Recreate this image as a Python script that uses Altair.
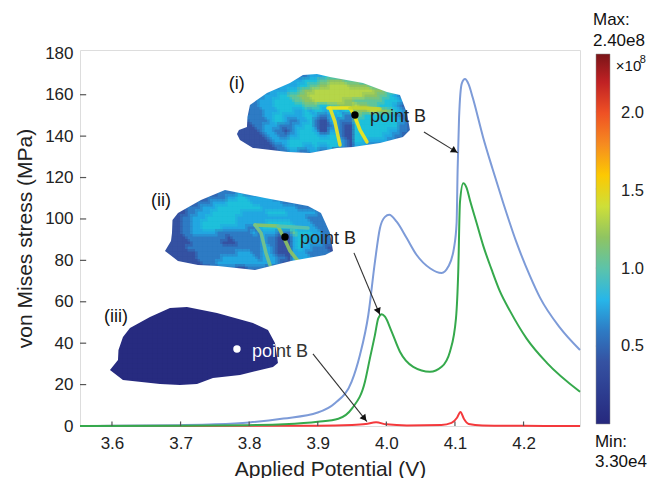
import math
import altair as alt
import pandas as pd

alt.data_transformers.disable_max_rows()

FONT = "Liberation Sans"
X_DOMAIN = [3.5534, 4.2823]
Y_DOMAIN = [0, 181.6]
PX_PER_V = 686.0
PX_PER_MPA = 2.07

blue_v = [3.5534,3.6,3.7,3.75,3.8,3.85,3.9,3.925,3.9494,3.9615,3.9737,3.9834,3.9907,3.998,4.0042,4.015,4.0296,4.0442,4.0636,4.0806,4.0903,4.0985,4.1024,4.1039,4.106,4.11,4.1146,4.12,4.126,4.141,4.155,4.1704,4.19,4.2093,4.224,4.253,4.2823]
blue_s = [0,0.1,0.4,0.8,1.7,3.6,6.5,11,21.4,34.3,53.6,79.4,95.6,101,102,98.7,90.8,82.6,76.2,73.9,77,85.8,98,123.7,149,165.5,167.6,165,158.5,139.5,124,107.7,88.4,72.5,62,47.5,36.7]
green_v = [3.5534,3.7,3.8,3.85,3.9,3.93,3.95,3.9688,3.9761,3.9834,3.9882,3.9932,3.998,4.0077,4.0198,4.0392,4.0636,4.0806,4.0927,4.1015,4.1048,4.1073,4.1121,4.117,4.1219,4.1316,4.1413,4.1535,4.1656,4.1802,4.2045,4.234,4.2823]
green_s = [0,0.1,0.4,0.8,2,3.5,8.5,21.4,32.8,44,52,54,52.8,45.6,35.9,28.6,26.2,28.6,35.9,52,74.5,108,117.2,115,109,98,87,75.5,65,55.6,42.2,30.5,16.5]
red_v = [3.5534,3.9,3.95,3.97,3.985,4.0,4.03,4.08,4.095,4.103,4.108,4.113,4.12,4.14,4.2,4.2823]
red_s = [0,0.1,0.5,1,1.8,0.8,0.3,0.5,1.5,4,6.8,3.5,1,0.3,0.1,0]

x_ticks = [3.6,3.7,3.8,3.9,4.0,4.1,4.2]
y_ticks = list(range(0,181,20))
y_minor_ticks = list(range(20,161,20))

stress_levels = {"0":0.03,"1":0.4,"2":0.6,"3":0.75,"4":0.87,"5":1.05,"6":1.2,"7":1.33,"8":1.5,"9":1.75}
cbar_domain = [0,0.5,0.82,1.0,1.2,1.5,1.8,2.1,2.38]
cbar_range = ["#26287d","#3a5dab","#2bbcec","#5cc3aa","#8fc462","#f7e814","#f68b20","#e8282a","#7a1518"]
cbar_labels = [0.5,1.0,1.5,2.0]

field_i = [
"11111111111222333444333322222221111",
"22222222233334445566655544433322111",
"22222222333344556677776666554443211",
"22222233334456677777777777766554321",
"22222333445566777777777776665543211",
"22223334444556677777766555555444321",
"11223334444445554455666766554443211",
"11222333444334344344344666776654321",
"12222334433334432233422654444443221",
"11222234432233421133222544444444321",
"11122333222334421123211444444444221",
"11112332212344431133211444444433221",
"11111233223344443344211444444332211",
"11111123334444444444321443333322111",
"11111112234443343344321333222211111",
"11111111223322332231111121111111111",
"11111111112112211221111111111111111",
]
field_ii = [
"11111111112222322222211111111111111",
"11111111222233443333322221111111111",
"11111122233344444333333222221111111",
"11112223334444444443333333222211111",
"11112233344444433333444433333322111",
"11122333444444333333333333332222211",
"11122334444444333333444443333222111",
"11122334444333332234444444333322211",
"11122333332222222323332225444332211",
"11112222222212222223221113443332211",
"11111222222111222223221113443332211",
"11112222222222222223321113433222111",
"11111122222222333223321113332222211",
"11111122222333333323332213333222111",
"11111112223333333333332113332221111",
"11111111122222112222111112111111111",
"11111111111111111111111111111111111",
]
field_iii = ["0"*35]*17

top_i = [(0,62),(2,58),(10,55),(10.5,45),(13,33),(30,21),(53,11),(66,3),(80,2),(93,5),(126,11),(150,20),(163,23),(170,41),(173,58)]
bot_i = [(0,62),(3,68),(16,76),(51,80),(73,81),(100,76),(116,75),(143,71),(166,65),(173,58)]
top_ii = [(0,62),(6,52),(7,44),(7.5,31),(13,24),(36,11),(60,1),(100,9),(143,17),(156,24),(165,44),(168,62)]
bot_ii = [(0,62),(13,72),(33,76),(53,77),(90,81),(126,72),(160,66),(168,62)]
top_iii = [(0,64),(8,54),(8.5,44),(13,31),(20,22),(40,11),(60,2),(77,1),(107,7),(143,17),(158,24),(165,37),(168,57)]
bot_iii = [(0,64),(13,74),(50,78),(70,79),(87,78),(103,72),(130,69),(163,61),(168,57)]

ridges_i = [
    ([(91,36),(113,36),(118,45),(123,58),(130,70)], "#f7e814"),
    ([(113,36),(128,36),(143,37)], "#c4d52e"),
    ([(93,36),(98,50),(103,73)], "#f2e41c"),
]
ridges_ii = [
    ([(90,36),(113,37),(120,51),(125,62),(133,72)], "#8fc462"),
    ([(113,37),(128,38),(143,39)], "#5cc3aa"),
    ([(90,36),(96,44),(101,64),(105,76)], "#78c487"),
]

insets = [
    ("i", 3.7822, 171.01, field_i, top_i, bot_i, ridges_i),
    ("ii", 3.6773, 114.5, field_ii, top_ii, bot_ii, ridges_ii),
    ("iii", 3.5971, 57.97, field_iii, top_iii, bot_iii, []),
]

dots_v = [3.9542,3.8522,3.7822]
dots_s = [150.2,91.3,37.2]
dots_c = ["#000000","#000000","#ffffff"]

arrows = [
    (4.0548,142.0,4.1044,131.9),
    (3.9528,83.6,3.9907,53.6),
    (3.893,34.8,3.9717,2.1),
]

two_tone = alt.LinearGradient(gradient="linear", x1=0, x2=1, y1=0, y2=0, stops=[
    alt.GradientStop(color="#ffffff", offset=0), alt.GradientStop(color="#ffffff", offset=0.41),
    alt.GradientStop(color="#333333", offset=0.41), alt.GradientStop(color="#333333", offset=1)])

texts = [
    ("(i)",3.782,165.2,"center",18,"#111111"),
    ("(ii)",3.6714,108.7,"center",18,"#111111"),
    ("(iii)",3.606,52.7,"center",18,"#111111"),
    ("point B",3.976,149.3,"left",18,"#222222"),
    ("point B",3.874,90.3,"left",18,"#222222"),
    ("point B",3.804,35.7,"left",18,two_tone),
    ("Max:",4.3012,196.1,"left",17,"#111111"),
    ("2.40e8",4.3012,186,"left",17,"#111111"),
    ("\u00d710",4.3345,173.9,"left",15,"#111111"),
    ("8",4.3695,176.8,"left",11,"#111111"),
    ("Min:",4.3041,-7.7,"left",17,"#111111"),
    ("3.30e4",4.3041,-17.4,"left",17,"#111111"),
]

x_scale = alt.Scale(domain=X_DOMAIN, nice=False, zero=False)
y_scale = alt.Scale(domain=Y_DOMAIN, nice=False, zero=False)
X = alt.X("x:Q", scale=x_scale, axis=alt.Axis(values=x_ticks, ticks=False, domain=False, grid=False,
        format=".1f", labelFont=FONT, labelFontSize=17, labelColor="#222222", labelPadding=9,
        title="Applied Potential (V)", titleFont=FONT, titleFontSize=21, titleFontWeight="normal",
        titleColor="#222222", titlePadding=7))
Y = alt.Y("y:Q", scale=y_scale, axis=alt.Axis(values=y_ticks, ticks=False, domain=False, grid=False,
        labelFont=FONT, labelFontSize=17, labelColor="#222222", labelPadding=7,
        title="von Mises stress (MPa)", titleFont=FONT, titleFontSize=21, titleFontWeight="normal",
        titleColor="#222222", titlePadding=9))

color_scale = alt.Scale(domain=cbar_domain, range=cbar_range, clamp=True)

cells, cells2, masks, ridge_layers = [], [], [], []
for name, v0, m0, field, top, bot, ridges in insets:
    right = max(p[0] for p in top)
    for r, row in enumerate(field):
        for c, ch in enumerate(row):
            u = 5.0*c
            if u >= right:
                continue
            cells.append(dict(x=v0+u/PX_PER_V, x2=v0+min(u+5.4,right)/PX_PER_V,
                              y=m0-5.0*r/PX_PER_MPA, y2=m0-(5.0*r+5.4)/PX_PER_MPA,
                              stress=stress_levels[ch]))
            if u+2.5 < right:
                cells2.append(dict(x=v0+(u+2.5)/PX_PER_V, x2=v0+min(u+7.9,right)/PX_PER_V,
                              y=m0-(5.0*r+2.5)/PX_PER_MPA, y2=m0-(5.0*r+7.9)/PX_PER_MPA,
                              stress=stress_levels[ch]))
    rows = len(field)
    tops = [(-1.5,top[0][1])]+top+[(right+1.5,top[-1][1])]
    bots = [(-1.5,bot[0][1])]+bot+[(right+1.5,bot[-1][1])]
    for u, w in tops:
        masks.append(dict(x=v0+u/PX_PER_V, y=m0+1.5/PX_PER_MPA, y2=m0-w/PX_PER_MPA, g=name+"t"))
    for u, w in bots:
        masks.append(dict(x=v0+u/PX_PER_V, y=m0-w/PX_PER_MPA, y2=m0-(5.0*rows+8)/PX_PER_MPA, g=name+"b"))
    for pts, col in ridges:
        df = pd.DataFrame({"x":[v0+p[0]/PX_PER_V for p in pts], "y":[m0-p[1]/PX_PER_MPA for p in pts], "o":list(range(len(pts)))})
        ridge_layers.append(alt.Chart(df).mark_line(color=col, strokeWidth=3.5, strokeCap="round", strokeJoin="round", opacity=0.9).encode(
            x=alt.X("x:Q", scale=x_scale), y=alt.Y("y:Q", scale=y_scale), order="o:Q"))

base_layer = alt.Chart(pd.DataFrame(cells)).mark_rect(strokeWidth=0).encode(
    x=X, x2="x2:Q", y=Y, y2="y2:Q",
    color=alt.Color("stress:Q", scale=color_scale,
        legend=alt.Legend(type="gradient", orient="none", legendX=516, legendY=4, title=None, values=cbar_labels,
            format=".1f", gradientLength=370, gradientThickness=14, gradientStrokeColor="#888888",
            gradientStrokeWidth=0.5, labelFont=FONT, labelFontSize=16.5, labelColor="#222222",
            labelOffset=11, direction="vertical")))
soft_layer = alt.Chart(pd.DataFrame(cells2)).mark_rect(strokeWidth=0, opacity=0.5).encode(
    x=alt.X("x:Q", scale=x_scale), x2="x2:Q", y=alt.Y("y:Q", scale=y_scale), y2="y2:Q",
    color=alt.Color("stress:Q", scale=color_scale, legend=None))
mask_layer = alt.Chart(pd.DataFrame(masks)).mark_area(color="white").encode(
    x=alt.X("x:Q", scale=x_scale), y=alt.Y("y:Q", scale=y_scale), y2="y2:Q", detail="g:N")

def curve(vs, ss, color):
    return alt.Chart(pd.DataFrame({"x":vs,"y":ss})).mark_line(color=color, strokeWidth=2, interpolate="monotone").encode(
        x=alt.X("x:Q", scale=x_scale), y=alt.Y("y:Q", scale=y_scale))

lines = [curve(red_v, red_s, "#f4393c"), curve(blue_v, blue_s, "#7d9bd8"), curve(green_v, green_s, "#35a94c")]

def segs(rows, color, width):
    return alt.Chart(pd.DataFrame(rows)).mark_rule(color=color, strokeWidth=width).encode(
        x=alt.X("x:Q", scale=x_scale), x2="x2:Q", y=alt.Y("y:Q", scale=y_scale), y2="y2:Q")

x_tick_rows = [dict(x=t,x2=t,y=0,y2=2.2) for t in x_ticks]
y_tick_rows = [dict(x=X_DOMAIN[0],x2=X_DOMAIN[0]+0.009,y=t,y2=t) for t in y_minor_ticks]
bar_ticks = [38.6,76.3,114.5,151.7]
bar_tick_rows = [dict(x=a,x2=b,y=t,y2=t) for t in bar_ticks for a,b in ((4.3055,4.311),(4.32,4.3259))]
tick_layer = segs(x_tick_rows+y_tick_rows, "#555555", 1.2)
bar_tick_layer = segs(bar_tick_rows, "#555555", 0.8)

dots = alt.Chart(pd.DataFrame({"x":dots_v,"y":dots_s,"c":dots_c})).mark_circle(size=55, opacity=1).encode(
    x=alt.X("x:Q", scale=x_scale), y=alt.Y("y:Q", scale=y_scale), color=alt.Color("c:N", scale=None))

arrow_rows, head_rows = [], []
for a,b,c,d in arrows:
    arrow_rows.append(dict(x=a,x2=c,y=b,y2=d))
    dx, dy = (c-a)*PX_PER_V, (b-d)*PX_PER_MPA
    n = math.hypot(dx,dy)
    head_rows.append(dict(x=c-4*dx/n/PX_PER_V, y=d+4*dy/n/PX_PER_MPA, a=math.degrees(math.atan2(dx,-dy))%360))
arrow_layer = segs(arrow_rows, "#333333", 1.1)
head_layer = alt.Chart(pd.DataFrame(head_rows)).mark_point(shape="triangle-up", filled=True, color="#111111", opacity=1, size=55).encode(
    x=alt.X("x:Q", scale=x_scale), y=alt.Y("y:Q", scale=y_scale), angle=alt.Angle("a:Q", scale=None))

text_layers = []
for t,v,s,al,fs,col in texts:
    text_layers.append(alt.Chart(pd.DataFrame({"x":[v],"y":[s],"t":[t]})).mark_text(
        font=FONT, fontSize=fs, align=al, baseline="middle", color=col).encode(
        x=alt.X("x:Q", scale=x_scale), y=alt.Y("y:Q", scale=y_scale), text="t:N"))

chart = alt.layer(base_layer, soft_layer, *ridge_layers, mask_layer, *lines, tick_layer, bar_tick_layer, dots, arrow_layer, head_layer, *text_layers).properties(
    width=500, height=376,
    autosize=alt.AutoSizeParams(type="none"),
    padding={"left":72,"top":42,"right":68,"bottom":52},
).configure_view(stroke="#666666", strokeWidth=1.5).configure(background="white")

chart.save("out.html", embed_options={"renderer":"svg","actions":False})
